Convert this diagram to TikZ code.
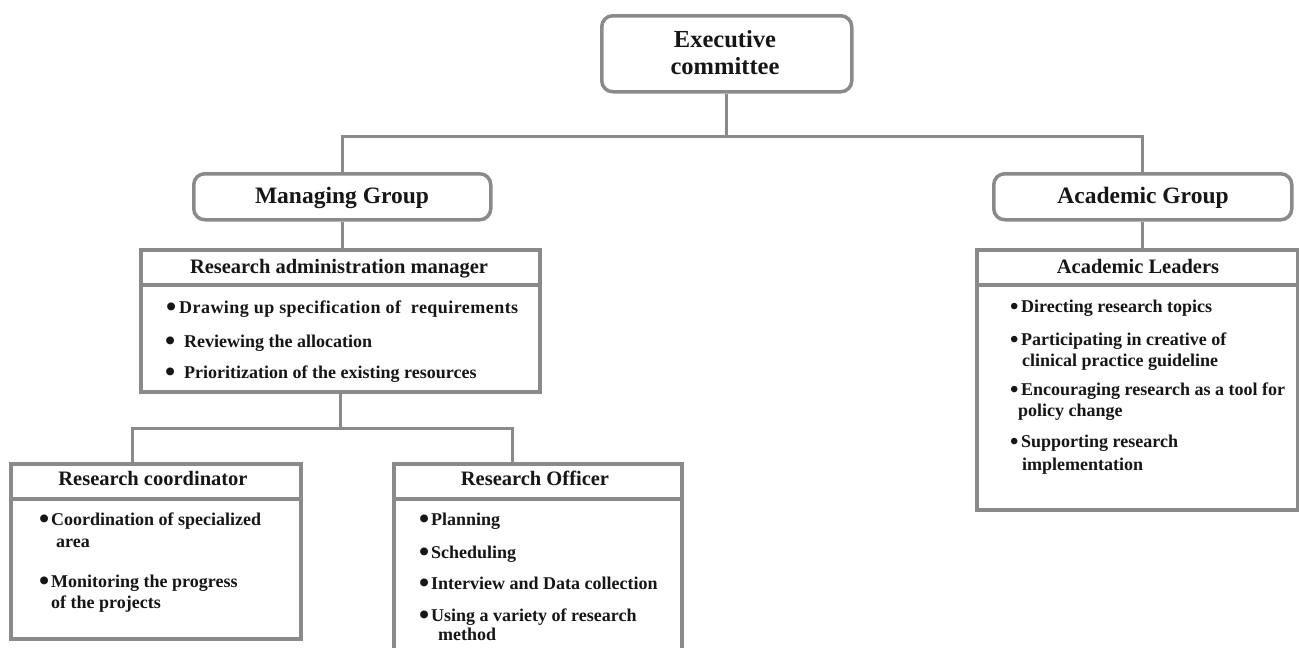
\documentclass[tikz,border=0pt]{standalone}
\usepackage{fontspec}
\setmainfont{Liberation Serif}
\usetikzlibrary{calc}
\definecolor{lngray}{RGB}{138,138,138}
\definecolor{txt}{RGB}{22,22,22}
\newcommand\bul[1]{\makebox[#1][l]{\raisebox{-3.4pt}{\fontsize{29}{29}\selectfont\textbullet}}}
\newcommand\sbul[1]{\makebox[#1][l]{\raisebox{-2pt}{\fontsize{24}{24}\selectfont\textbullet}}}
\begin{document}
\begin{tikzpicture}[x=1pt,y=-1pt,
  rbox/.style={draw=lngray,line width=3.5pt,rounded corners=11pt,fill=white,inner sep=0pt,anchor=north west},
  sbox/.style={draw=lngray,line width=3.5pt,fill=white,inner sep=0pt,anchor=north west},
  conn/.style={draw=lngray,line width=3pt},
  head/.style={font=\bfseries\fontsize{20.5}{24}\selectfont,text=txt,anchor=base,inner sep=0pt},
  item/.style={font=\bfseries\fontsize{18}{22}\selectfont,text=txt,anchor=base west,inner sep=0pt},
  grp/.style={font=\bfseries\fontsize{23.5}{28}\selectfont,text=txt,anchor=base,inner sep=0pt},
  exe/.style={font=\bfseries\fontsize{24.5}{28}\selectfont,text=txt,anchor=base,inner sep=0pt}]
\useasboundingbox (0,0) rectangle (1299,648);
\clip (0,0) rectangle (1299,648);
\fill[white] (0,0) rectangle (1299,648);
% boxes
\node[rbox,minimum width=250pt,minimum height=76pt] (exec) at (600,14) {};
\node[rbox,minimum width=297pt,minimum height=46pt] (mg) at (192,172) {};
\node[rbox,minimum width=298pt,minimum height=46pt] (ag) at (992,172) {};
\node[sbox,minimum width=399pt,minimum height=35pt] (ramh) at (139,248) {};
\node[sbox,minimum width=399pt,minimum height=107pt] (ram) at (139,283) {};
\node[sbox,minimum width=321pt,minimum height=35pt] (alh) at (975,248) {};
\node[sbox,minimum width=321pt,minimum height=225pt] (al) at (975,283) {};
\node[sbox,minimum width=290pt,minimum height=35pt] (rch) at (9,462) {};
\node[sbox,minimum width=290pt,minimum height=140pt] (rc) at (9,497) {};
\node[sbox,minimum width=288pt,minimum height=35pt] (roh) at (392,462) {};
\node[sbox,minimum width=288pt,minimum height=200pt] (ro) at (392,497) {};
% connectors
\coordinate (bus) at ($(exec.south)+(0,43)$);
\draw[conn] (exec.south) -- (bus);
\draw[conn] (mg.north) |- (bus) -| (ag.north);
\draw[conn] (mg.south) -- (mg.south |- ramh.north);
\draw[conn] (ag.south) -- (ag.south |- alh.north);
\coordinate (split) at ($(ram.south)+(0,35)$);
\coordinate (rcin) at ($(rch.north)+(-23,0)$);
\coordinate (roin) at ($(roh.north)+(-25,0)$);
\draw[conn] (ram.south) -- (split);
\draw[conn] (rcin) |- (split) -| (roin);
% texts
\node[exe] (exect1) at (725,47) {Executive};
\node[exe] (exect2) at (725,74) {committee};
\node[grp] (mgt) at (342,203) {Managing Group};
\node[grp] (agt) at (1143,203) {Academic Group};
\node[head] (ramt) at (339,273) {Research administration manager};
\node[item] (ram1) at (166,313) {\bul{13pt}\addfontfeature{LetterSpace=2.5}Drawing up specification of\ \ requirements};
\node[item] (ram2) at (165,347) {\bul{19pt}Reviewing the allocation};
\node[item] (ram3) at (165,378) {\bul{19pt}Prioritization of the existing resources};
\node[head] (alt) at (1138,273) {Academic Leaders};
\node[item] (al1) at (1010,312) {\sbul{11pt}Directing research topics};
\node[item] (al2) at (1010,345) {\sbul{11pt}Participating in creative of};
\node[item] (al2b) at (1022,366) {clinical practice guideline};
\node[item] (al3) at (1010,395) {\sbul{11pt}Encouraging research as a tool for};
\node[item] (al3b) at (1018,416) {policy change};
\node[item] (al4) at (1010,447) {\sbul{11pt}Supporting research};
\node[item] (al4b) at (1022,470) {implementation};
\node[head] (rct) at (153,485) {Research coordinator};
\node[item] (rc1) at (39,525) {\bul{12pt}Coordination of specialized};
\node[item] (rc1b) at (56,547) {area};
\node[item] (rc2) at (39,587) {\bul{12pt}Monitoring the progress};
\node[item] (rc2b) at (51,608) {of the projects};
\node[head] (rot) at (535,485) {Research Officer};
\node[item] (ro1) at (419,525) {\bul{12pt}Planning};
\node[item] (ro2) at (419,558) {\bul{12pt}Scheduling};
\node[item] (ro3) at (419,589) {\bul{12pt}Interview and Data collection};
\node[item] (ro4) at (419,621) {\bul{12pt}Using a variety of research};
\node[item] (ro4b) at (438,640) {method};
\end{tikzpicture}
\end{document}
